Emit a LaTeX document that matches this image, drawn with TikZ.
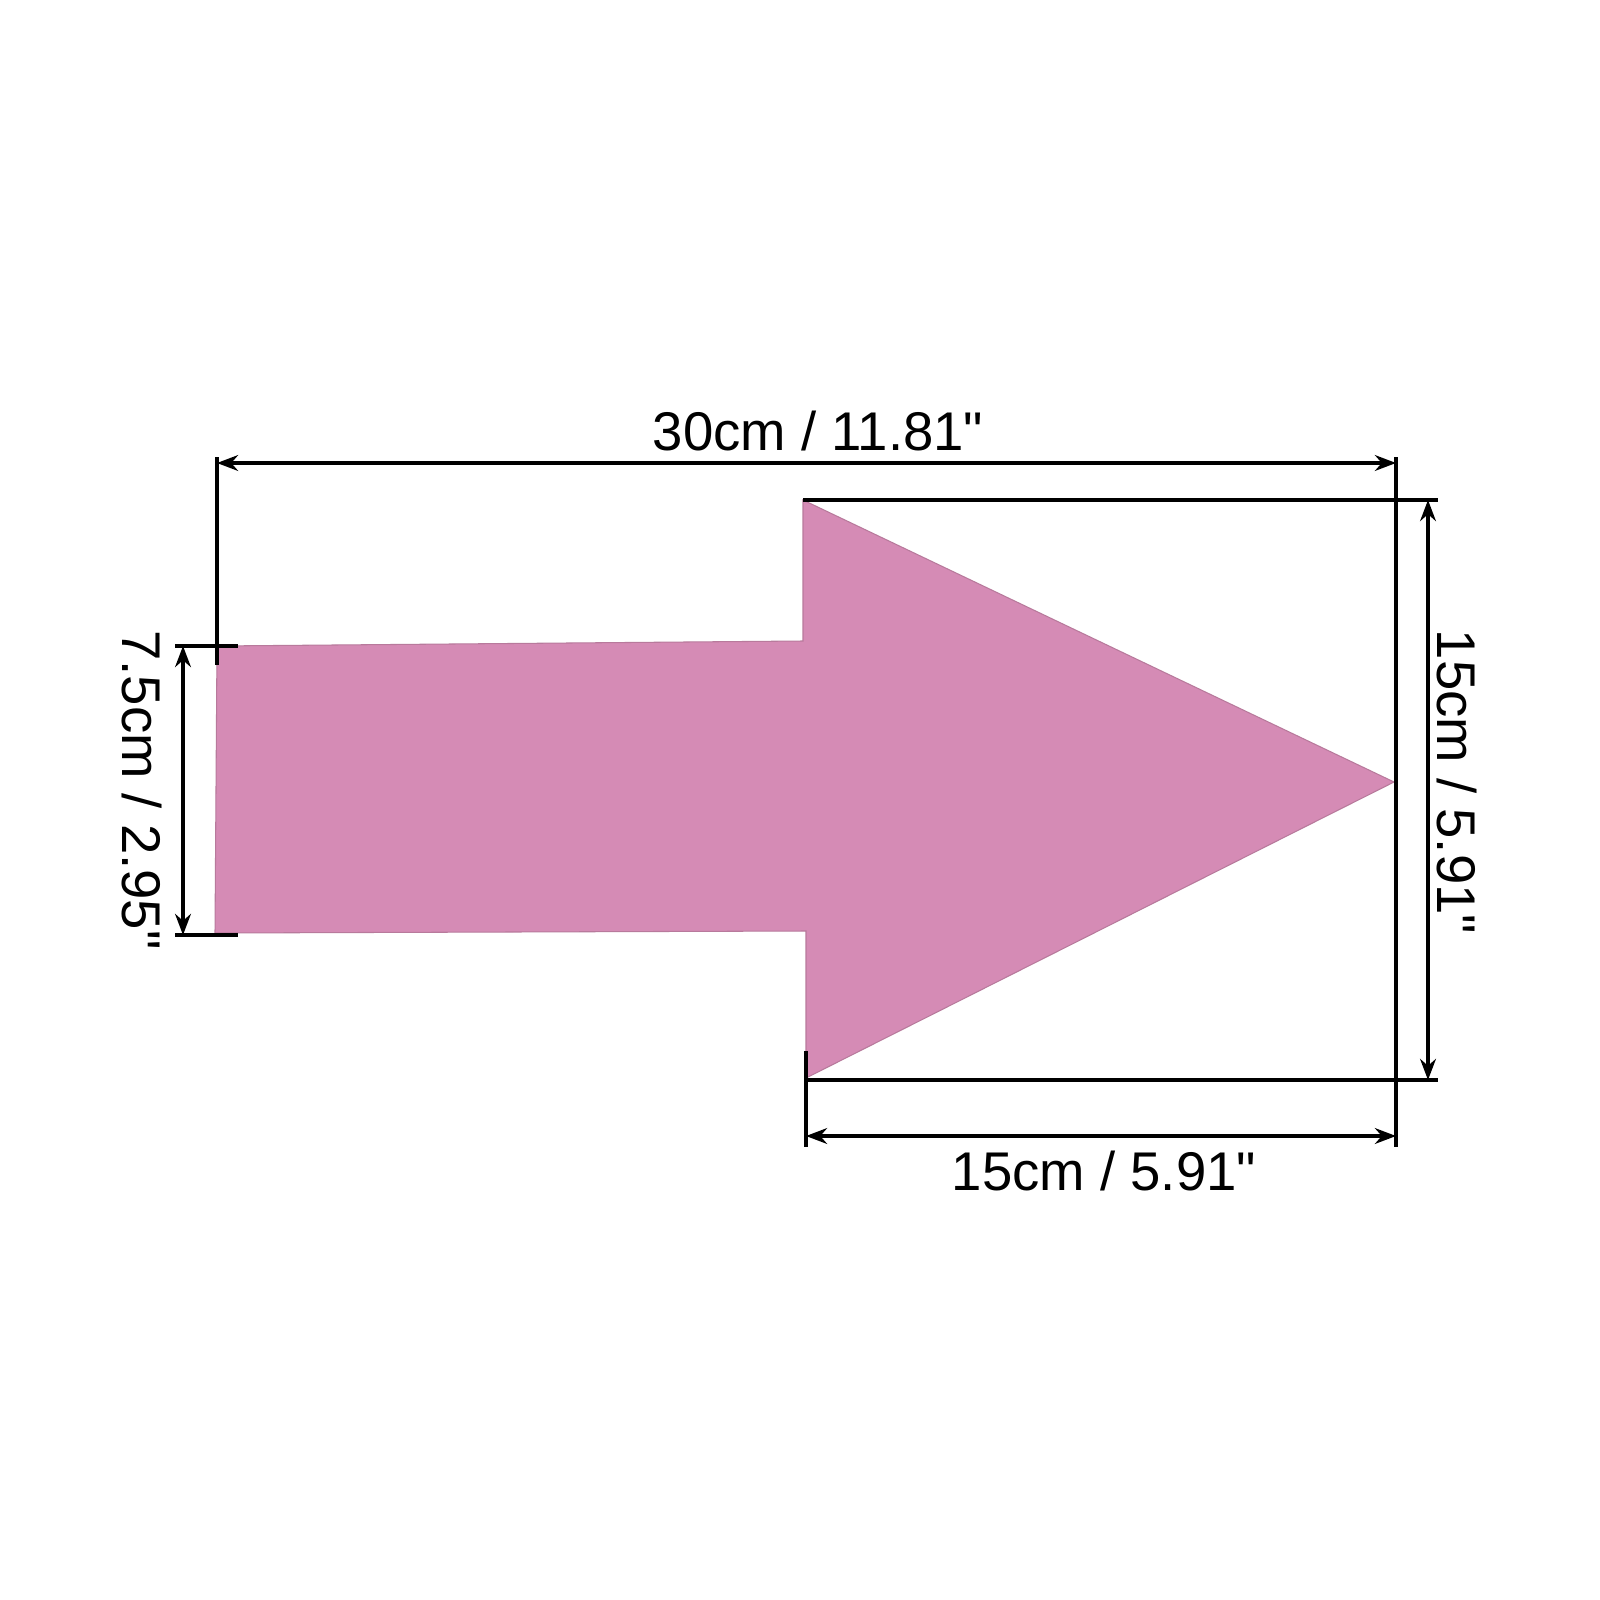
\documentclass[tikz,border=0pt]{standalone}
\usepackage{fontspec}
\setmainfont{Liberation Sans}[Ligatures=TeXOff]
\usetikzlibrary{arrows.meta}
\definecolor{pinkc}{HTML}{D58BB5}
\definecolor{pinkedge}{HTML}{B87A9C}
\tikzset{
  dimline/.style={line width=0.9pt, {Stealth[length=6pt,width=4.5pt]}-{Stealth[length=6pt,width=4.5pt]}},
  extline/.style={line width=0.9pt},
  dimtext/.style={font=\fontsize{15.5}{18}\selectfont, inner sep=0pt, anchor=base},
  arrowshape/.style={fill=pinkc, draw=pinkedge, line width=0.3pt}
}
\begin{document}
\begin{tikzpicture}[x=0.01cm, y=-0.01cm]
\useasboundingbox (0,0) rectangle (1600,1600);
\fill[white] (0,0) rectangle (1600,1600);
% arrow outline points
\coordinate (A) at (217,646);
\coordinate (B) at (803,641);
\coordinate (C) at (803,500);
\coordinate (D) at (1394,782);
\coordinate (E) at (806,1078);
\coordinate (F) at (806,931);
\coordinate (G) at (215,933);
\draw[arrowshape] (A) -- (B) -- (C) -- (D) -- (E) -- (F) -- (G) -- cycle;
% top dimension
\coordinate (tl1) at (217,457); \coordinate (tl2) at (217,665);
\coordinate (tr1) at (1396,457); \coordinate (tr2) at (1396,1147);
\coordinate (td1) at (217,463); \coordinate (td2) at (1396,463);
\draw[extline] (tl1) -- (tl2);
\draw[extline] (tr1) -- (tr2);
\draw[dimline] (td1) -- (td2);
\node[dimtext] (ttop) at (818,450) {30cm / 11.81"};
% right dimension
\coordinate (rh1) at (803,500); \coordinate (rh2) at (1438,500);
\coordinate (rb1) at (806,1080); \coordinate (rb2) at (1438,1080);
\coordinate (rd1) at (1428,500); \coordinate (rd2) at (1428,1080);
\draw[extline] (rh1) -- (rh2);
\draw[extline] (rb1) -- (rb2);
\draw[dimline] (rd1) -- (rd2);
\node[dimtext, rotate=-90] (tright) at (1437,782) {15cm / 5.91"};
% bottom dimension
\coordinate (be1) at (806,1051); \coordinate (be2) at (806,1147);
\coordinate (bd1) at (806,1136); \coordinate (bd2) at (1396,1136);
\draw[extline] (be1) -- (be2);
\draw[dimline] (bd1) -- (bd2);
\node[dimtext] (tbottom) at (1104,1190) {15cm / 5.91"};
% left dimension
\coordinate (lt1) at (175,646); \coordinate (lt2) at (238,646);
\coordinate (lb1) at (175,935); \coordinate (lb2) at (238,935);
\coordinate (ld1) at (183,646); \coordinate (ld2) at (183,935);
\draw[extline] (lt1) -- (lt2);
\draw[extline] (lb1) -- (lb2);
\draw[dimline] (ld1) -- (ld2);
\node[dimtext, rotate=-90] (tleft) at (122,790) {7.5cm / 2.95"};
\end{tikzpicture}
\end{document}
